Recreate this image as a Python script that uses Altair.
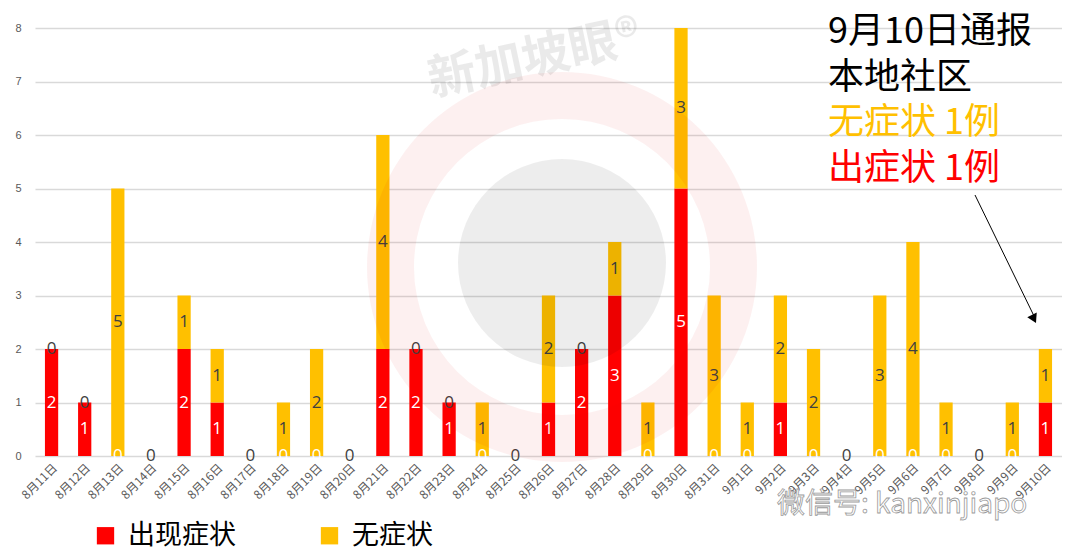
import altair as alt
import pandas as pd

FONT = "Noto Sans CJK SC"

dates = ["8月11日", "8月12日", "8月13日", "8月14日", "8月15日", "8月16日", "8月17日",
         "8月18日", "8月19日", "8月20日", "8月21日", "8月22日", "8月23日", "8月24日",
         "8月25日", "8月26日", "8月27日", "8月28日", "8月29日", "8月30日", "8月31日",
         "9月1日", "9月2日", "9月3日", "9月4日", "9月5日", "9月6日", "9月7日",
         "9月8日", "9月9日", "9月10日"]
symptomatic = [2, 1, 0, 0, 2, 1, 0, 0, 0, 0, 2, 2, 1, 0, 0, 1, 2, 3, 0, 5, 0,
               0, 1, 0, 0, 0, 0, 0, 0, 0, 1]
asymptomatic = [0, 0, 5, 0, 1, 1, 0, 1, 2, 0, 4, 0, 0, 1, 0, 2, 0, 1, 1, 3, 3,
                1, 2, 2, 0, 3, 4, 1, 0, 1, 1]
series_names = ["出现症状", "无症状"]
series_colors = ["#FF0000", "#FFC000"]
label_colors = ["#FFFFFF", "#404040"]
y_ticks = [0, 1, 2, 3, 4, 5, 6, 7, 8]

note_lines = ["9月10日通报", "本地社区", "无症状 1例", "出症状 1例"]
note_colors = ["#000000", "#000000", "#FFC000", "#FF0000"]

rows = []
for d, s, a in zip(dates, symptomatic, asymptomatic):
    rows.append({"date": d, "series": series_names[0], "value": s,
                 "y0": 0, "y1": s, "mid": s / 2, "tcolor": label_colors[0]})
for d, s, a in zip(dates, symptomatic, asymptomatic):
    rows.append({"date": d, "series": series_names[1], "value": a,
                 "y0": s, "y1": s + a, "mid": s + a / 2, "tcolor": label_colors[1]})
df = pd.DataFrame(rows)

x_enc = alt.X("date:N", sort=dates,
              scale=alt.Scale(paddingInner=0.6, paddingOuter=0.3),
              axis=alt.Axis(title=None, labelAngle=-45, labelFontSize=12,
                            labelColor="#595959", labelFont=FONT, ticks=False,
                            domain=False, labelPadding=6))
y_scale = alt.Scale(domain=[0, 8], nice=False)

bars = alt.Chart(df).mark_bar().encode(
    x=x_enc,
    y=alt.Y("y0:Q", scale=y_scale,
            axis=alt.Axis(title=None, values=y_ticks, grid=True, gridColor="#D9D9D9",
                          gridWidth=1.5, ticks=False, domain=False, labelColor="#595959",
                          labelFontSize=11, labelPadding=14, labelFont="Liberation Sans")),
    y2="y1:Q",
    color=alt.Color("series:N", sort=series_names,
                    scale=alt.Scale(domain=series_names, range=series_colors),
                    legend=alt.Legend(title=None, orient="none", direction="horizontal",
                                      legendX=57, legendY=494, symbolType="square",
                                      symbolSize=300, symbolStrokeWidth=0,
                                      labelFontSize=27, labelFont=FONT, labelColor="#000000",
                                      labelLimit=0, columnPadding=80, labelOffset=9)),
)

labels = alt.Chart(df).mark_text(fontSize=17, baseline="middle", font="Open Sans").encode(
    x=alt.X("date:N", sort=dates),
    y=alt.Y("mid:Q", scale=y_scale),
    text="value:Q",
    color=alt.Color("tcolor:N", scale=None),
)

one = pd.DataFrame({"k": [0]})

ring = alt.Chart(one).mark_arc(color="#E00000", opacity=0.06).encode(
    x=alt.value(527), y=alt.value(239), theta=alt.value(0), theta2=alt.value(6.2832),
    radius=alt.value(195), radius2=alt.value(148))
disc = alt.Chart(one).mark_arc(color="#000000", opacity=0.07).encode(
    x=alt.value(527), y=alt.value(235), theta=alt.value(0), theta2=alt.value(6.2832),
    radius=alt.value(104), radius2=alt.value(0))
brand = alt.Chart(pd.DataFrame({"t": ["新加坡眼®"]})).mark_text(
    fontSize=48, fontWeight="bold", font=FONT, color="#000000", opacity=0.08,
    angle=348, align="center", baseline="middle").encode(
    x=alt.value(500), y=alt.value(32), text="t:N")
wechat = alt.Chart(pd.DataFrame({"t": ["微信号: kanxinjiapo"]})).mark_text(
    fontSize=28, font=FONT, color="#FFFFFF", stroke="#9A9A9A", strokeWidth=0.8,
    align="left", baseline="middle").encode(
    x=alt.value(742), y=alt.value(477), text="t:N")

notes = []
for i, (line, col) in enumerate(zip(note_lines, note_colors)):
    notes.append(alt.Chart(pd.DataFrame({"t": [line]})).mark_text(
        fontSize=36, font=FONT, color=col, align="left", baseline="middle").encode(
        x=alt.value(793), y=alt.value(4 + 45.5 * i), text="t:N"))

arrow_line = alt.Chart(one).mark_rule(color="#000000", strokeWidth=1).encode(
    x=alt.value(940), y=alt.value(167), x2=alt.value(999), y2=alt.value(288))
arrow_head = alt.Chart(one).mark_point(shape="triangle-up", filled=True, color="#000000",
                                       opacity=1, size=110, angle=154).encode(
    x=alt.value(999), y=alt.value(291))

chart = alt.layer(bars, labels, ring, disc, brand, wechat, *notes, arrow_line, arrow_head).properties(
    width=1027, height=428,
    autosize=alt.AutoSizeParams(type="none"),
    padding={"left": 27, "top": 20, "right": 0, "bottom": 99},
).configure_view(stroke=None)

chart.save("out.html", embed_options={"renderer": "svg", "actions": False})
